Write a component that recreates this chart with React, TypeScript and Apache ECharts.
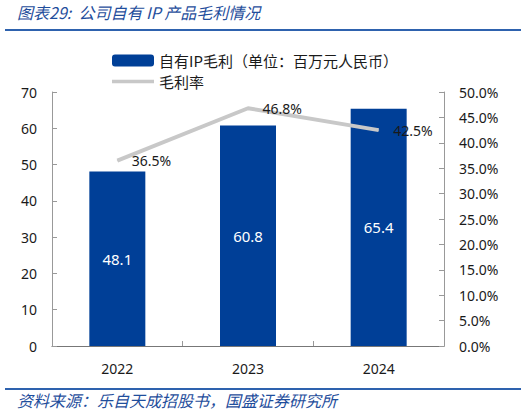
import React, { useEffect, useRef } from "react";
import * as echarts from "echarts";

const years = ["2022", "2023", "2024"];
const ipProfit = [48.1, 60.8, 65.4];
const marginPct = [36.5, 46.8, 42.5];
const barName = "自有IP毛利（单位：百万元人民币）";
const lineName = "毛利率";
const titleText = "图表29:  公司自有 IP 产品毛利情况";
const sourceText = "资料来源：乐自天成招股书，国盛证券研究所";

const FONT = "'Noto Sans', 'Noto Sans CJK SC', sans-serif";
const CJK = "'Noto Sans CJK SC', sans-serif";
const LINE_ICON =
  "path://M0,0L0.05,0L0.05,0.05Z M0,4.3L42,4.3L42,7.7L0,7.7Z M41.95,12L42,12L42,11.95Z";

export default function App() {
  const ref = useRef<HTMLDivElement>(null);
  useEffect(() => {
    if (!ref.current) return;
    const chart = echarts.init(ref.current, undefined, { renderer: "svg" });
    chart.setOption({
      animation: false,
      backgroundColor: "#ffffff",
      grid: { left: 52, right: 82, top: 92, bottom: 68, containLabel: false },
      legend: {
        orient: "vertical",
        left: 107,
        top: 48,
        itemWidth: 42,
        itemHeight: 12,
        itemGap: 6,
        textStyle: { fontFamily: CJK, fontSize: 15, color: "#1a1a1a" },
        data: [
          { name: barName, icon: "roundRect" },
          { name: lineName, icon: LINE_ICON, itemStyle: { color: "#C8C8C8" } },
        ],
      },
      xAxis: {
        type: "category",
        data: years,
        axisLine: { lineStyle: { color: "#777", width: 1.2 } },
        axisTick: { show: true, inside: true, length: 5, lineStyle: { color: "#999" } },
        axisLabel: { fontFamily: FONT, fontSize: 14, color: "#1a1a1a", margin: 15 },
      },
      yAxis: [
        {
          type: "value",
          min: 0,
          max: 70,
          interval: 10,
          splitLine: { show: false },
          axisLine: { show: true, lineStyle: { color: "#999" } },
          axisTick: { show: true, inside: true, length: 5, lineStyle: { color: "#999" } },
          axisLabel: { fontFamily: FONT, fontSize: 14, color: "#1a1a1a", margin: 15 },
        },
        {
          type: "value",
          min: 0,
          max: 50,
          interval: 5,
          splitLine: { show: false },
          axisLine: { show: true, lineStyle: { color: "#999" } },
          axisTick: { show: true, inside: true, length: 5, lineStyle: { color: "#999" } },
          axisLabel: {
            fontFamily: FONT,
            fontSize: 14,
            color: "#1a1a1a",
            margin: 15,
            formatter: (v: number) => `${v.toFixed(1)}%`,
          },
        },
      ],
      series: [
        {
          name: barName,
          type: "bar",
          data: ipProfit,
          barWidth: 56,
          itemStyle: { color: "#003F97" },
          label: {
            show: true,
            position: "inside",
            color: "#ffffff",
            fontFamily: FONT,
            fontSize: 15,
            formatter: (p: any) => p.value.toFixed(1),
          },
        },
        {
          name: lineName,
          type: "line",
          yAxisIndex: 1,
          data: marginPct,
          symbol: "circle",
          symbolSize: 1,
          showSymbol: true,
          lineStyle: { color: "#C8C8C8", width: 4 },
          itemStyle: { color: "#C8C8C8" },
          label: {
            show: true,
            position: "right",
            distance: 14,
            color: "#1a1a1a",
            fontFamily: FONT,
            fontSize: 14,
            formatter: (p: any) => `${p.value.toFixed(1)}%`,
          },
          z: 3,
        },
      ],
      graphic: [
        {
          type: "text",
          left: 17,
          top: 4,
          style: {
            text: titleText,
            fontFamily: CJK,
            fontStyle: "italic",
            fontSize: 16,
            fill: "#1F4E9C",
          },
        },
        {
          type: "line",
          shape: { x1: 5, y1: 30, x2: 521, y2: 30 },
          style: { stroke: "#2E62AE", lineWidth: 2 },
        },
        {
          type: "line",
          shape: { x1: 5, y1: 389, x2: 521, y2: 389 },
          style: { stroke: "#2E62AE", lineWidth: 2 },
        },
        {
          type: "text",
          left: 17,
          top: 392,
          style: {
            text: sourceText,
            fontFamily: CJK,
            fontStyle: "italic",
            fontSize: 16,
            fill: "#1F4E9C",
          },
        },
      ],
    });
    return () => chart.dispose();
  }, []);
  return (
    <div
      ref={ref}
      style={{ position: "fixed", left: 0, top: 0, width: 526, height: 414 }}
    />
  );
}
